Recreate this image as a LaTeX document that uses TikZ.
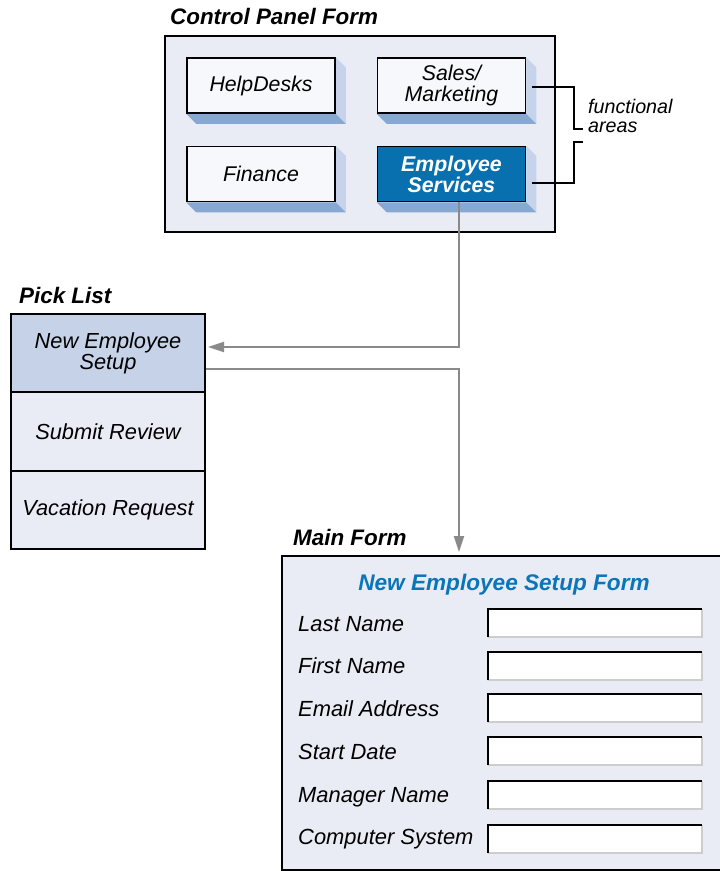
\documentclass[tikz,border=0pt]{standalone}
\usepackage{fontspec}
\setmainfont{Liberation Sans}
\usetikzlibrary{arrows.meta,calc,backgrounds}
\definecolor{panelbg}{HTML}{E9ECF5}
\definecolor{boxbg}{HTML}{F7F8FC}
\definecolor{sideA}{HTML}{C6D3EA}
\definecolor{sideB}{HTML}{86A8D2}
\definecolor{esblue}{HTML}{0870AE}
\definecolor{selrow}{HTML}{C5D2E8}
\definecolor{conn}{HTML}{8A8A8A}
\definecolor{titleblue}{HTML}{0B75B9}
\definecolor{fieldgray}{HTML}{CDCDCD}
\newcommand\boxshadow[1]{%
  \fill[sideA] (#1.north east) -- ($(#1.north east)+(10,10)$) -- ($(#1.south east)+(10,10)$) -- (#1.south east) -- cycle;
  \fill[sideB] (#1.south west) -- ($(#1.south west)+(10,10)$) -- ($(#1.south east)+(10,10)$) -- (#1.south east) -- cycle;}
\begin{document}
\begin{tikzpicture}[x=1pt,y=-1pt,
  fbox/.style={draw=black,line width=1.5pt,fill=boxbg,minimum width=148pt,minimum height=55pt,inner sep=0pt,align=center,font=\fontsize{21.3}{21}\selectfont\itshape},
  esbox/.style={fbox,fill=esblue,text=white,font=\fontsize{21.3}{21}\selectfont\bfseries\itshape},
  heading/.style={anchor=base west,inner sep=0pt,font=\fontsize{22.4}{20}\selectfont\bfseries\itshape},
  rowbox/.style={draw=black,line width=2pt,fill=panelbg,minimum width=194pt,minimum height=78.5pt,inner sep=0pt,align=center,font=\fontsize{21.8}{19.5}\selectfont\itshape},
  flabel/.style={anchor=base west,inner sep=0pt,font=\fontsize{21.9}{21}\selectfont\itshape},
  field/.style={fill=white,minimum width=214pt,minimum height=28pt,inner sep=0pt,anchor=north west},
  conline/.style={draw=conn,line width=2pt},
  contip/.style={-{Triangle[length=16pt,width=10pt]}},
  brace/.style={draw=black,line width=1.3pt}]
\useasboundingbox (0,0) rectangle (720,871);

% Control panel
\node[heading] (cpt) at (170,24) {Control Panel Form};
\begin{scope}[on background layer]
  \draw[fill=panelbg,line width=2.5pt] (165,36) rectangle (555,232);
\end{scope}
\node[fbox] (hd) at (261,85.5) {HelpDesks};
\node[fbox] (sm) at (451.5,85.5) {Sales/\\Marketing};
\node[fbox] (fi) at (261,174) {Finance};
\node[esbox] (es) at (451.5,174) {Employee\\Services};
\begin{scope}[on background layer]
  \boxshadow{hd}\boxshadow{sm}\boxshadow{fi}\boxshadow{es}
\end{scope}

% functional areas bracket
\coordinate (b1) at (532,87);
\coordinate (b2) at (532,183);
\draw[brace] (b1) -- (574,87) -- (574,129) -- (583,129);
\draw[brace] (b2) -- (574,183) -- (574,142) -- (583,142);
\node[anchor=base west,inner sep=0pt,align=left,font=\fontsize{19.7}{19}\selectfont\itshape] (fa) at (588,132) {functional\\areas};

% Pick list
\node[heading] (plt) at (19,303) {Pick List};
\node[rowbox,fill=selrow] (r1) at (108,353) {New Employee\\Setup};
\node[rowbox] (r2) at (108,431.5) {Submit Review};
\node[rowbox] (r3) at (108,510) {Vacation Request};

% Main form
\node[heading] (mft) at (293,545) {Main Form};
\fill[panelbg] (282,556) rectangle (722,870);
\draw[line width=2.5pt] (724,556) -- (282,556) -- (282,870) -- (724,870);
\node[anchor=base,inner sep=0pt,text=titleblue,font=\fontsize{22.6}{21}\selectfont\bfseries\itshape] (mtitle) at (504,590) {New Employee Setup Form};
\foreach \n/\t/\b/\ft in {1/Last Name/631/609, 2/First Name/673/652, 3/Email Address/716/694, 4/Start Date/759/737, 5/Manager Name/802/781, 6/Computer System/844/825}{
  \node[flabel] (l\n) at (298,\b) {\t};
  \node[field] (f\n) at (488,\ft) {};
  \draw[fieldgray,line width=2pt] (f\n.north east) -- (f\n.south east) -- (f\n.south west);
  \draw[black,line width=2.2pt] (f\n.south west) -- (f\n.north west) -- (f\n.north east);
}

% connectors
\coordinate (c1) at (459,347);
\coordinate (c2) at (459,369);
\draw[conline,contip] (es.south -| c1) -- (c1) -- ($(c1 -| r1.east)+(2,0)$);
\draw[conline,contip] (c2 -| r1.east) -- (c2) -- ($(mft.base -| c2)+(0,7)$);
\end{tikzpicture}
\end{document}
